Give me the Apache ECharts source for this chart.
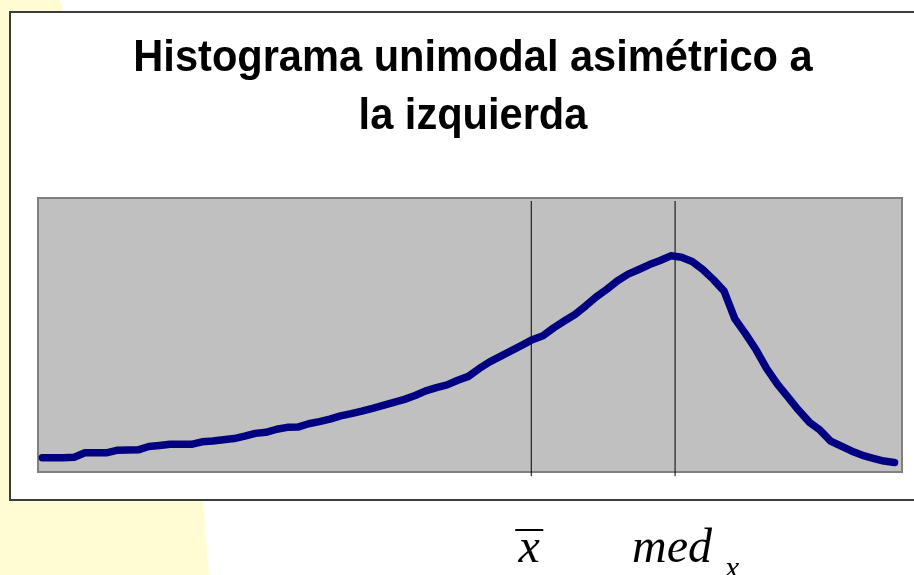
<!DOCTYPE html>
<html>
<head>
<meta charset="utf-8">
<title>Histograma unimodal asimétrico a la izquierda</title>
<script src="https://cdn.jsdelivr.net/npm/echarts@6/dist/echarts.min.js"></script>
<style>
    html, body { margin: 0; padding: 0; background: #fff; }
    #chart { width: 914px; height: 575px; }
</style>
</head>
<body>
<div id="chart"></div>
<script>
// datos
const titulo = 'Histograma unimodal asimétrico a\nla izquierda';
const frecuencias = [
    5.2, 5.2, 5.2, 5.4, 7.0, 7.0, 7.0, 7.9, 8.0, 8.1,
    9.3, 9.7, 10.1, 10.1, 10.1, 11.0, 11.3, 11.8, 12.2, 13.1,
    14.1, 14.5, 15.6, 16.3, 16.4, 17.6, 18.4, 19.3, 20.5, 21.3,
    22.2, 23.2, 24.3, 25.4, 26.5, 27.9, 29.6, 30.8, 31.8, 33.5,
    34.9, 37.7, 40.2, 42.2, 44.2, 46.2, 48.3, 49.7, 52.6, 55.1,
    57.5, 60.6, 63.9, 66.7, 69.8, 72.2, 73.9, 75.7, 77.2, 78.9,
    78.4, 76.8, 73.9, 70.2, 66.0, 56.0, 50.5, 44.6, 37.7, 32.1,
    27.3, 22.5, 18.2, 15.3, 11.3, 9.4, 7.6, 6.1, 5.0, 4.0,
    3.5
];
const media = 45.9;
const mediana = 59.4;
const lineaAlto = [-1.5, 98.9];
const etiquetaMedia = 'x';
const etiquetaMediana = 'med';
const subindiceMediana = 'x';

const myChart = echarts.init(document.getElementById('chart'));

const verticalLine = (name, x) => ({
    name: name,
    type: 'line',
    data: lineaAlto.map((y) => [x, y]),
    symbol: 'none',
    clip: false,
    silent: true,
    z: 3,
    lineStyle: {
        color: '#000',
        width: 1,
    },
});

const option = {
    backgroundColor: '#fff',
    animation: false,
    grid: {
        left: 38,
        top: 198,
        right: 12,
        bottom: 103,
        show: true,
        backgroundColor: '#c0c0c0',
        borderColor: '#808080',
        borderWidth: 2,
    },
    xAxis: {
        type: 'value',
        min: -0.4,
        max: 80.7,
        show: false,
        splitLine: { show: false },
    },
    yAxis: {
        type: 'value',
        min: 0,
        max: 100,
        show: false,
        splitLine: { show: false },
    },
    series: [
        verticalLine('media', media),
        verticalLine('mediana', mediana),
        {
            name: 'frecuencia',
            type: 'line',
            data: frecuencias.map((v, i) => [i, v]),
            symbol: 'none',
            smooth: false,
            z: 4,
            lineStyle: {
                color: '#000080',
                width: 7.5,
                cap: 'round',
                join: 'round',
            },
        },
    ],
};
myChart.setOption(option);

// etiquetas debajo de las lineas de media y mediana
const pMedia = myChart.convertToPixel({ gridIndex: 0 }, [media, 0]);
const pMediana = myChart.convertToPixel({ gridIndex: 0 }, [mediana, 0]);
const fuenteMate = 'italic 48px "Liberation Serif", "Times New Roman", serif';

myChart.setOption({
    graphic: [
        {
            type: 'polygon',
            z: -10,
            shape: { points: [[0, 0], [60, 0], [203, 500], [209, 575], [0, 575]] },
            style: { fill: '#fffcd4' },
        },
        {
            type: 'rect',
            z: -9,
            shape: { x: 10, y: 12, width: 930, height: 488 },
            style: { fill: '#fff', stroke: '#3c3c3c', lineWidth: 2 },
        },
        {
            type: 'text',
            z: 10,
            x: 473,
            y: 30,
            scaleX: 0.945,
            style: {
                text: titulo,
                font: 'bold 44px "Liberation Sans", Arial, sans-serif',
                lineHeight: 58,
                align: 'center',
                verticalAlign: 'top',
                fill: '#000',
            },
        },
        {
            type: 'text',
            z: 10,
            x: pMedia[0] - 2,
            y: 549,
            style: {
                text: etiquetaMedia,
                font: fuenteMate,
                align: 'center',
                verticalAlign: 'middle',
                fill: '#000',
            },
        },
        {
            type: 'line',
            z: 10,
            shape: { x1: pMedia[0] - 16, y1: 530, x2: pMedia[0] + 12, y2: 530 },
            style: { stroke: '#000', lineWidth: 2 },
        },
        {
            type: 'text',
            z: 10,
            x: pMediana[0] - 3,
            y: 549,
            style: {
                text: etiquetaMediana,
                font: fuenteMate,
                align: 'center',
                verticalAlign: 'middle',
                fill: '#000',
            },
        },
        {
            type: 'text',
            z: 10,
            x: pMediana[0] + 57,
            y: 570,
            style: {
                text: subindiceMediana,
                font: 'italic 32px "Liberation Serif", "Times New Roman", serif',
                align: 'center',
                verticalAlign: 'middle',
                fill: '#000',
            },
        },
    ],
});
</script>
</body>
</html>
